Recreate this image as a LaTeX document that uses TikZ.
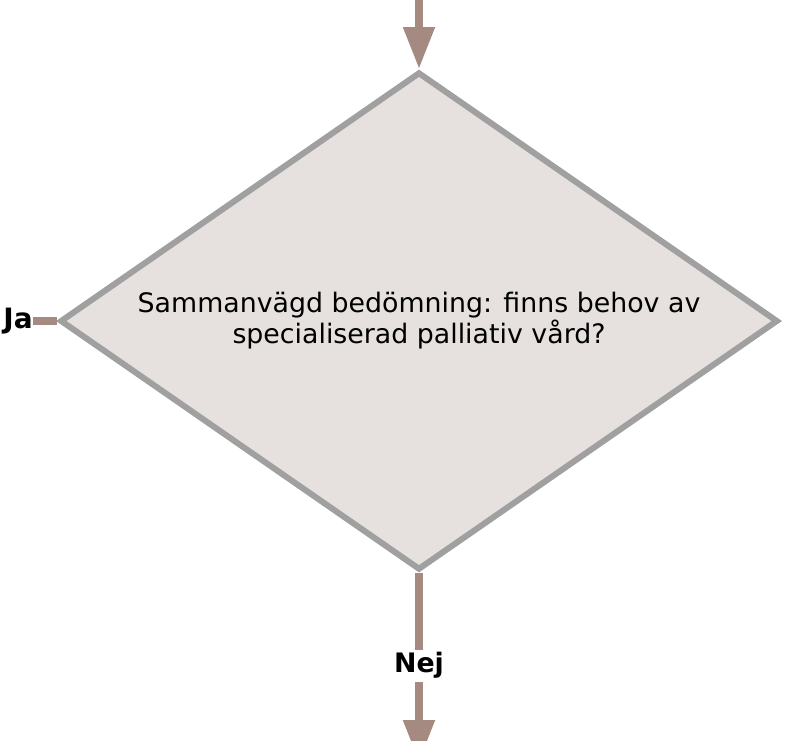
\documentclass[tikz,border=0pt]{standalone}
\usepackage{fontspec}
\setmainfont{DejaVu Sans}
\usetikzlibrary{positioning, arrows.meta, shapes.geometric}
\definecolor{GrayA}{HTML}{A0A0A0}
\definecolor{SandB}{HTML}{E6E1DE}
\definecolor{BrownA}{HTML}{A48A80}
\tikzset{
  dec/.style={diamond, aspect=1.44, draw=GrayA, fill=SandB, line width=6pt, align=center,
              inner sep=0pt, minimum width=718pt, minimum height=498pt,
              font=\fontsize{26.8}{31}\selectfont},
  ar/.style={-{Triangle[length=42pt, width=30pt]}, draw=BrownA, line width=8pt},
  ln/.style={draw=BrownA, line width=8pt},
  el/.style={font=\fontsize{26.8}{31}\selectfont\bfseries, fill=white, inner sep=3pt},
  lb/.style={font=\fontsize{28}{31}\selectfont\bfseries, inner sep=0pt},
}

\begin{document}
\begin{tikzpicture}
  \useasboundingbox (-419pt,-419pt) rectangle (370pt,321pt);

  \node[dec] (dec) {Sammanvägd bedömning: finns behov av\\specialiserad palliativ vård?};
  \coordinate[above=80pt of dec.north] (in);
  \coordinate[below=189pt of dec.south] (out);
  \node[lb, left=24pt of dec.west] (ja) {Ja};

  \draw[ar] (in) -- (dec.north);
  \draw[ln] (ja.east) -- (dec.west);
  \draw[ar] (dec.south) -- node[el, pos=0.49]{Nej} (out);
\end{tikzpicture}
\end{document}
